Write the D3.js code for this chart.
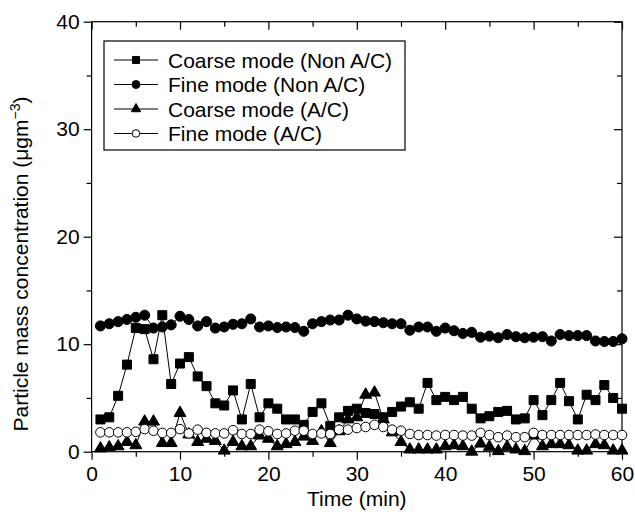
<!DOCTYPE html>
<html>
<head>
<meta charset="utf-8">
<script src="https://cdn.jsdelivr.net/npm/d3@7"></script>
<style>
body { margin: 0; background: #fff; }
svg { font-family: "Liberation Sans", Arial, sans-serif; }
</style>
</head>
<body>
<svg id="chart" width="635" height="514"></svg>
<script>
// minutes
var minutes = [1,2,3,4,5,6,7,8,9,10,11,12,13,14,15,16,17,18,19,20,
    21,22,23,24,25,26,27,28,29,30,31,32,33,34,35,36,37,38,39,40,
    41,42,43,44,45,46,47,48,49,50,51,52,53,54,55,56,57,58,59,60];

var coarseNonAC = [3.0,3.2,5.2,8.1,11.5,11.4,8.6,12.7,6.3,8.2,
    8.8,7.0,6.1,4.5,4.3,5.7,3.0,6.3,3.2,4.5,
    4.0,3.0,3.0,2.5,3.7,4.5,2.4,3.2,3.8,4.0,
    3.6,3.5,3.2,3.7,4.2,4.6,4.0,6.4,4.8,5.1,
    4.8,5.1,4.0,3.1,3.3,3.7,3.8,3.0,3.1,4.8,
    3.4,4.8,6.4,4.7,3.0,5.3,4.8,6.2,5.0,4.0];

var fineNonAC = [11.7,11.9,12.1,12.3,12.5,12.7,11.5,11.6,11.8,12.6,
    12.3,11.7,12.1,11.5,11.6,11.85,11.9,12.35,11.6,11.7,
    11.55,11.6,11.55,11.2,11.9,12.1,12.25,12.25,12.7,12.35,
    12.15,12.1,12.0,11.9,11.9,11.3,11.6,11.6,11.2,11.5,
    11.25,11.0,11.1,10.65,10.75,10.6,10.9,10.7,10.6,10.65,
    10.7,10.3,10.9,10.8,10.8,10.8,10.3,10.25,10.25,10.5];

var coarseAC = [0.3,0.4,0.5,0.9,0.6,2.8,2.8,0.8,0.8,3.6,
    1.6,0.9,1.2,1.0,0.1,0.9,0.5,0.5,1.5,1.2,
    0.5,0.7,0.9,1.4,1.0,1.9,0.8,1.9,3.0,3.2,
    5.3,5.5,3.0,1.8,0.9,0.2,0.2,0.2,0.2,0.5,
    0.6,0.5,0.0,0.75,0.45,0.05,0.45,0.2,0.05,1.5,
    0.5,0.7,0.7,0.6,0.1,0.1,0.7,0.6,0.1,0.1];

var fineAC = [1.8,1.8,1.8,1.8,1.85,2.1,1.95,1.75,1.75,2.1,
    1.7,2.05,1.75,1.7,1.7,2.0,1.65,1.65,2.05,1.9,
    1.65,1.7,1.95,1.95,1.65,1.7,1.65,2.05,2.05,2.2,
    2.3,2.5,2.3,2.05,1.95,1.65,1.55,1.55,1.5,1.55,
    1.55,1.5,1.5,1.75,1.55,1.35,1.5,1.35,1.35,1.75,
    1.55,1.55,1.55,1.55,1.55,1.55,1.6,1.55,1.55,1.55];

var xMajor = [0,10,20,30,40,50,60];
var xMinor = [5,15,25,35,45,55];
var yMajor = [0,10,20,30,40];
var yMinor = [5,15,25,35];

var seriesList = [
    {label: 'Fine mode (Non A/C)', values: fineNonAC, shape: d3.symbolCircle, size: 80, fill: '#000'},
    {label: 'Coarse mode (Non A/C)', values: coarseNonAC, shape: d3.symbolSquare, size: 81, fill: '#000'},
    {label: 'Coarse mode (A/C)', values: coarseAC, shape: d3.symbolTriangle, size: 62, fill: '#000'},
    {label: 'Fine mode (A/C)', values: fineAC, shape: d3.symbolCircle, size: 72, fill: '#fff'}
];
var legendOrder = [1, 0, 2, 3];

var plotL = 91.6, plotR = 622, plotT = 21.7, plotB = 451.7;

var svg = d3.select('#chart');

var x = d3.scaleLinear().domain([0, 60]).range([plotL, plotR]);
var y = d3.scaleLinear().domain([0, 40]).range([plotB, plotT]);

function styleAxis(g) {
    g.select('.domain').remove();
    g.selectAll('line').attr('stroke', '#000').attr('stroke-width', 1.2);
    g.selectAll('text').attr('font-size', 21).attr('fill', '#000');
}

// bottom
svg.append('g').attr('transform', 'translate(0,' + plotB + ')')
    .call(d3.axisBottom(x).tickValues(xMajor).tickSize(8).tickPadding(6).tickFormat(d3.format('d')))
    .call(styleAxis);
svg.append('g').attr('transform', 'translate(0,' + plotB + ')')
    .call(d3.axisBottom(x).tickValues(xMinor).tickSize(5).tickFormat(''))
    .call(styleAxis);
// top (inward)
svg.append('g').attr('transform', 'translate(0,' + plotT + ')')
    .call(d3.axisTop(x).tickValues(xMajor).tickSize(-8).tickFormat(''))
    .call(styleAxis);
svg.append('g').attr('transform', 'translate(0,' + plotT + ')')
    .call(d3.axisTop(x).tickValues(xMinor).tickSize(-5).tickFormat(''))
    .call(styleAxis);
// left
svg.append('g').attr('transform', 'translate(' + plotL + ',0)')
    .call(d3.axisLeft(y).tickValues(yMajor).tickSize(8).tickPadding(4).tickFormat(d3.format('d')))
    .call(styleAxis);
svg.append('g').attr('transform', 'translate(' + plotL + ',0)')
    .call(d3.axisLeft(y).tickValues(yMinor).tickSize(5).tickFormat(''))
    .call(styleAxis);
// right (inward)
svg.append('g').attr('transform', 'translate(' + plotR + ',0)')
    .call(d3.axisRight(y).tickValues(yMajor).tickSize(-8).tickFormat(''))
    .call(styleAxis);
svg.append('g').attr('transform', 'translate(' + plotR + ',0)')
    .call(d3.axisRight(y).tickValues(yMinor).tickSize(-5).tickFormat(''))
    .call(styleAxis);

// frame
svg.append('rect')
    .attr('x', plotL).attr('y', plotT)
    .attr('width', plotR - plotL).attr('height', plotB - plotT)
    .attr('fill', 'none').attr('stroke', '#000').attr('stroke-width', 1.2);

// series
var line = d3.line()
    .x(function(d) { return x(d[0]); })
    .y(function(d) { return y(d[1]); });

seriesList.forEach(function(s) {
    var pts = minutes.map(function(m, i) { return [m, s.values[i]]; });
    var g = svg.append('g');
    g.append('path')
        .attr('d', line(pts))
        .attr('fill', 'none')
        .attr('stroke', '#000')
        .attr('stroke-width', 1);
    g.selectAll('path.mark')
        .data(pts)
        .enter()
        .append('path')
        .attr('class', 'mark')
        .attr('d', d3.symbol().type(s.shape).size(s.size))
        .attr('transform', function(d) { return 'translate(' + x(d[0]) + ',' + y(d[1]) + ')'; })
        .attr('fill', s.fill)
        .attr('stroke', '#000')
        .attr('stroke-width', 1);
});

// legend
var legend = svg.append('g');
legend.append('rect')
    .attr('x', 104).attr('y', 41)
    .attr('width', 301).attr('height', 109)
    .attr('fill', '#fff').attr('stroke', '#000').attr('stroke-width', 1.2);

legendOrder.forEach(function(k, i) {
    var s = seriesList[k];
    var ly = 60 + i * 24.5;
    var item = legend.append('g').attr('transform', 'translate(0,' + ly + ')');
    item.append('line')
        .attr('x1', 114).attr('x2', 158)
        .attr('y1', 0).attr('y2', 0)
        .attr('stroke', '#000').attr('stroke-width', 1);
    item.append('path')
        .attr('d', d3.symbol().type(s.shape).size(s.size * 0.62))
        .attr('transform', 'translate(136,0)')
        .attr('fill', s.fill)
        .attr('stroke', '#000')
        .attr('stroke-width', 1);
    item.append('text')
        .attr('x', 168).attr('y', 7.5)
        .attr('font-size', 21)
        .text(s.label);
});

// axis titles
svg.append('text')
    .attr('x', (plotL + plotR) / 2)
    .attr('y', 506)
    .attr('text-anchor', 'middle')
    .attr('font-size', 21)
    .text('Time (min)');

var yt = svg.append('text')
    .attr('transform', 'rotate(-90)')
    .attr('x', -264)
    .attr('y', 28)
    .attr('text-anchor', 'middle')
    .attr('font-size', 21);
yt.append('tspan').text('Particle mass concentration (\u03bcgm');
yt.append('tspan').attr('font-size', 14).attr('dy', -8).text('\u22123');
yt.append('tspan').attr('dy', 8).text(')');
</script>
</body>
</html>
